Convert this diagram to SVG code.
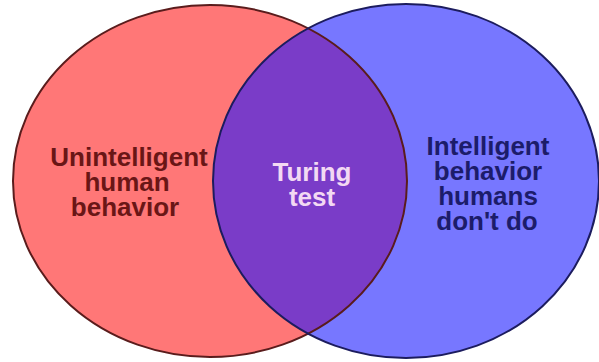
<svg xmlns="http://www.w3.org/2000/svg" width="599" height="362" viewBox="0 0 599 362">
<style>
.lbl{font-family:"Liberation Sans",Arial,sans-serif;font-size:26px;font-weight:bold;text-anchor:middle;}
.left{fill:#6a1616;}
.right{fill:#1c1c6a;}
.mid{fill:#f3d9f3;}
</style>
<defs>
<clipPath id="clipLeft"><ellipse cx="210" cy="181" rx="197" ry="176"/></clipPath>
</defs>
<rect width="599" height="362" fill="#ffffff"/>
<g id="set-left">
<ellipse cx="210" cy="181" rx="197" ry="176" fill="#ff7777"/>
</g>
<g id="set-right">
<ellipse cx="406" cy="181" rx="193" ry="177" fill="#7777ff"/>
</g>
<g id="set-intersection">
<ellipse cx="406" cy="181" rx="193" ry="177" fill="#7a3cc8" clip-path="url(#clipLeft)"/>
</g>
<g id="outlines" fill="none" stroke-width="2">
<ellipse cx="210" cy="181" rx="197" ry="176" stroke="#5a1c1c"/>
<ellipse cx="406" cy="181" rx="193" ry="177" stroke="#1c1c5e"/>
</g>
<g id="label-left" class="lbl left">
<text x="129" y="166">Unintelligent</text>
<text x="127" y="191">human</text>
<text x="125" y="216">behavior</text>
</g>
<g id="label-mid" class="lbl mid">
<text x="312" y="181">Turing</text>
<text x="312" y="206">test</text>
</g>
<g id="label-right" class="lbl right">
<text x="488" y="155">Intelligent</text>
<text x="488" y="180">behavior</text>
<text x="488" y="205">humans</text>
<text x="487" y="230">don't do</text>
</g>
</svg>
